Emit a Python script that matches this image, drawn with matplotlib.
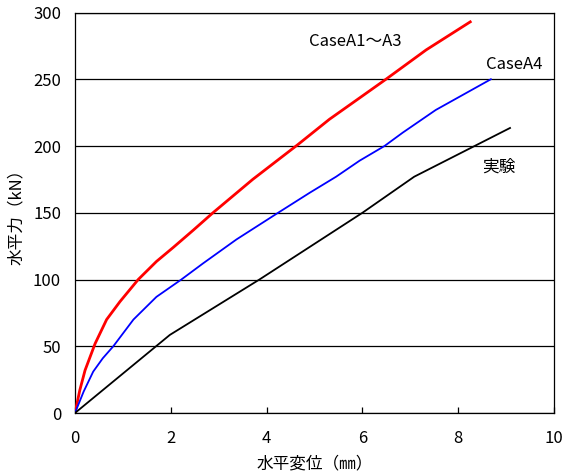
import matplotlib
matplotlib.use("Agg")
import matplotlib.pyplot as plt

plt.rcParams['font.family'] = ['Noto Sans CJK JP', 'DejaVu Sans']

# load-displacement curves (mm, kN)
red_x = [0, 0.1, 0.21, 0.42, 0.66, 0.94, 1.32, 1.70, 2.05, 2.47, 2.88, 3.71, 4.65, 5.31, 5.94, 6.49, 7.33, 8.25]
red_y = [0, 17, 32, 52, 70, 83.5, 100, 113.5, 124, 137, 150, 175, 201, 220, 236, 250, 272, 293]

blue_x = [0, 0.18, 0.38, 0.58, 0.80, 1.22, 1.70, 2.22, 2.67, 3.37, 4.24, 4.90, 5.45, 5.94, 6.46, 6.84, 7.53, 8.68]
blue_y = [0, 16, 31, 41, 50, 70, 87, 100, 112, 130, 150, 165, 177, 189, 200, 210, 227, 250]

test_x = [0, 1.98, 3.85, 6.0, 7.08, 9.08]
test_y = [0, 58.5, 100, 150, 177, 213.5]

fig = plt.figure(figsize=(5.63, 4.72), dpi=100)
ax = fig.add_axes([0.1332, 0.125, 0.851, 0.8485])

ax.plot(red_x, red_y, color='#ff0000', lw=2.0, zorder=3)
ax.plot(blue_x, blue_y, color='#0000ff', lw=1.3, zorder=3)
ax.plot(test_x, test_y, color='black', lw=1.3, zorder=3)

ax.set_xlim(0, 10)
ax.set_ylim(0, 300)
ax.set_xticks([0, 2, 4, 6, 8, 10])
ax.set_yticks([0, 50, 100, 150, 200, 250, 300])
ax.yaxis.grid(True, color='black', lw=0.9)
ax.set_axisbelow(True)
ax.tick_params(axis='x', direction='in', length=4, width=0.9, labelsize=12, pad=12)
ax.tick_params(axis='y', length=0, labelsize=12, pad=10)
for s in ax.spines.values():
    s.set_linewidth(0.9)

ax.set_xlabel('水平変位（㎜）', fontsize=12, labelpad=6)
ax.set_ylabel('水平力（kN）', fontsize=12, labelpad=6)

ax.text(5.85, 278, 'CaseA1～A3', fontsize=12, ha='center', va='center')
ax.text(9.17, 261, 'CaseA4', fontsize=12, ha='center', va='center')
ax.text(8.85, 184, '実験', fontsize=12, ha='center', va='center')

fig.savefig('out.png', dpi=100)
